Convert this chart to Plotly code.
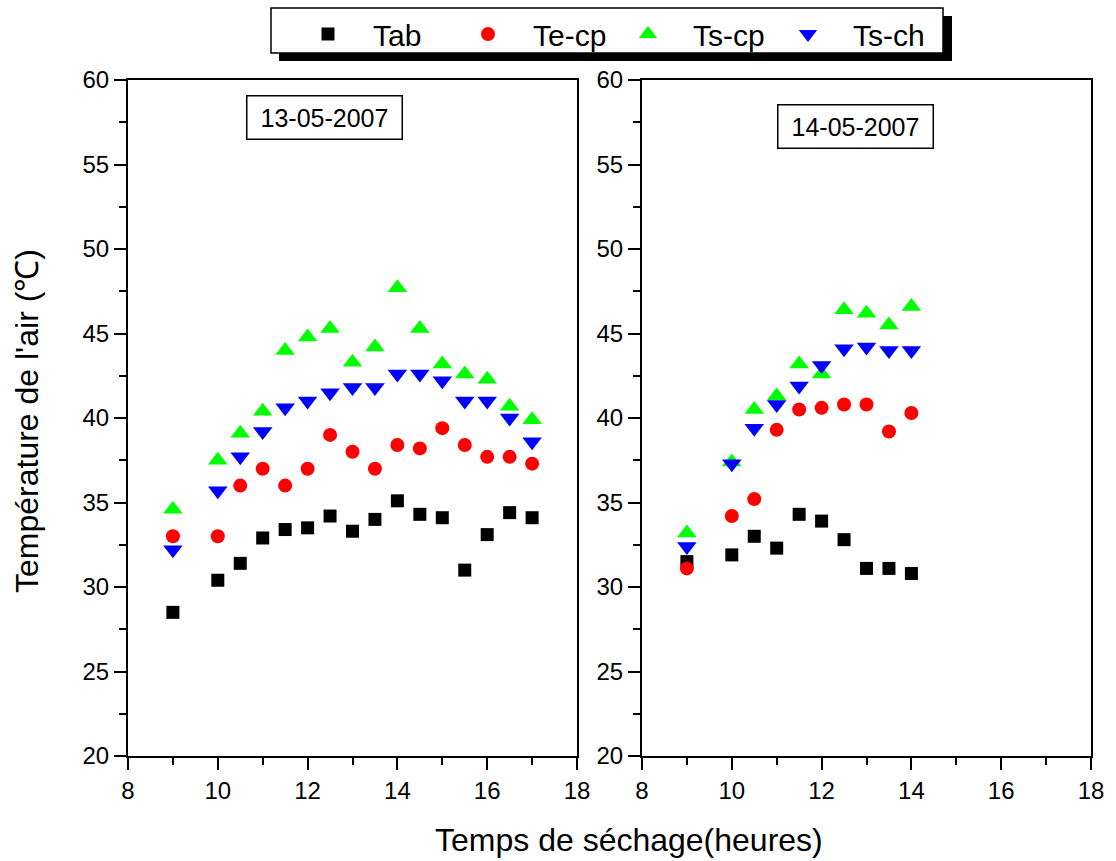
import plotly.graph_objects as go

FONT = "Liberation Sans, Arial, sans-serif"
W, H = 1116, 861

# ---------------- data ----------------
series_names = ["Tab", "Te-cp", "Ts-cp", "Ts-ch"]

hours_d1 = [9, 10, 10.5, 11, 11.5, 12, 12.5, 13, 13.5, 14, 14.5, 15, 15.5, 16, 16.5, 17]
tab_d1 = [28.5, 30.4, 31.4, 32.9, 33.4, 33.5, 34.2, 33.3, 34.0, 35.1, 34.3, 34.1, 31.0, 33.1, 34.4, 34.1]
tecp_d1 = [33.0, 33.0, 36.0, 37.0, 36.0, 37.0, 39.0, 38.0, 37.0, 38.4, 38.2, 39.4, 38.4, 37.7, 37.7, 37.3]
tscp_d1 = [34.6, 37.5, 39.1, 40.4, 44.0, 44.8, 45.3, 43.3, 44.2, 47.7, 45.3, 43.2, 42.6, 42.3, 40.7, 39.9]
tsch_d1 = [32.2, 35.7, 37.7, 39.2, 40.6, 41.0, 41.5, 41.8, 41.8, 42.6, 42.6, 42.2, 41.0, 41.0, 40.0, 38.6]

hours_d2 = [9, 10, 10.5, 11, 11.5, 12, 12.5, 13, 13.5, 14]
tab_d2 = [31.5, 31.9, 33.0, 32.3, 34.3, 33.9, 32.8, 31.1, 31.1, 30.8]
tecp_d2 = [31.1, 34.2, 35.2, 39.3, 40.5, 40.6, 40.8, 40.8, 39.2, 40.3]
tscp_d2 = [33.2, 37.4, 40.5, 41.3, 43.2, 42.6, 46.4, 46.2, 45.5, 46.6]
tsch_d2 = [32.4, 37.3, 39.4, 40.8, 41.9, 43.1, 44.1, 44.2, 44.0, 44.0]

dates = ["13-05-2007", "14-05-2007"]
x_title = "Temps de séchage(heures)"
y_title = "Température de l'air (℃)"

# ---------------- styles ----------------
styles = {
    "Tab": dict(symbol="square", color="#000000", size=13),
    "Te-cp": dict(symbol="circle", color="#ff0000", size=14),
    "Ts-cp": dict(symbol="triangle-up", color="#00ff00", size=17),
    "Ts-ch": dict(symbol="triangle-down", color="#0000ff", size=17),
}

panels = [
    ("x", "y", hours_d1, [tab_d1, tecp_d1, tscp_d1, tsch_d1], True),
    ("x2", "y2", hours_d2, [tab_d2, tecp_d2, tscp_d2, tsch_d2], False),
]

fig = go.Figure()
for xa, ya, xs, ys_list, show in panels:
    for name, ys in zip(series_names, ys_list):
        st = styles[name]
        fig.add_trace(go.Scatter(
            x=xs, y=ys, mode="markers", name="\u00a0\u00a0\u00a0" + name,
            xaxis=xa, yaxis=ya, showlegend=show,
            marker=dict(symbol=st["symbol"], color=st["color"], size=st["size"],
                        line=dict(width=0)),
        ))

def px_x(p):
    return p / W

def px_y(p):
    return 1 - p / H

ydom = [px_y(756), px_y(80)]
xdom1 = [px_x(128), px_x(577)]
xdom2 = [px_x(642), px_x(1091)]

axis_common = dict(
    showline=True, linecolor="black", linewidth=2, mirror=True,
    ticks="outside", tickwidth=2, ticklen=12, tickcolor="black",
    showgrid=False, zeroline=False,
    tickfont=dict(family=FONT, size=24, color="black"),
)
xaxis_common = dict(axis_common, range=[8, 18], tickvals=[8, 10, 12, 14, 16, 18],
                    minor=dict(tickvals=[9, 11, 13, 15, 17], ticklen=7, tickwidth=2,
                               tickcolor="black", ticks="outside"))
yaxis_common = dict(axis_common, range=[20, 60], tickvals=[20, 25, 30, 35, 40, 45, 50, 55, 60],
                    minor=dict(tickvals=[22.5, 27.5, 32.5, 37.5, 42.5, 47.5, 52.5, 57.5],
                               ticklen=7, tickwidth=2, tickcolor="black", ticks="outside"))

fig.update_layout(
    width=W, height=H,
    margin=dict(l=0, r=0, t=0, b=0, autoexpand=False),
    paper_bgcolor="white", plot_bgcolor="white",
    font=dict(family=FONT, color="black"),
    xaxis=dict(xaxis_common, domain=xdom1, anchor="y"),
    yaxis=dict(yaxis_common, domain=ydom, anchor="x"),
    xaxis2=dict(xaxis_common, domain=xdom2, anchor="y2"),
    yaxis2=dict(yaxis_common, domain=ydom, anchor="x2"),
    legend=dict(
        orientation="h", x=px_x(308), y=px_y(8), xanchor="left", yanchor="top",
        bgcolor="rgba(0,0,0,0)", borderwidth=0,
        font=dict(family=FONT, size=30, color="black"),
        entrywidth=115, entrywidthmode="pixels",
        itemsizing="trace",
    ),
    shapes=[
        dict(type="rect", xref="paper", yref="paper",
             x0=px_x(279), x1=px_x(952), y0=px_y(61), y1=px_y(16),
             fillcolor="black", line=dict(width=0), layer="above"),
        dict(type="rect", xref="paper", yref="paper",
             x0=px_x(271), x1=px_x(943), y0=px_y(53), y1=px_y(8),
             fillcolor="white", line=dict(width=1.5, color="black"), layer="above"),
    ],
    annotations=[
        dict(text=dates[0], xref="paper", yref="paper", x=px_x(324), y=px_y(118),
             xanchor="center", yanchor="middle", showarrow=False,
             font=dict(family=FONT, size=25, color="black"),
             bordercolor="black", borderwidth=1.5, borderpad=0, width=154, height=42,
             bgcolor="white"),
        dict(text=dates[1], xref="paper", yref="paper", x=px_x(855), y=px_y(126),
             xanchor="center", yanchor="middle", showarrow=False,
             font=dict(family=FONT, size=25, color="black"),
             bordercolor="black", borderwidth=1.5, borderpad=0, width=154, height=42,
             bgcolor="white"),
        dict(text=x_title, xref="paper", yref="paper", x=px_x(629), y=px_y(860),
             xanchor="center", yanchor="bottom", showarrow=False,
             font=dict(family=FONT, size=32, color="black")),
        dict(text=y_title, xref="paper", yref="paper", x=px_x(27), y=px_y(421),
             xanchor="center", yanchor="middle", showarrow=False, textangle=-90,
             font=dict(family=FONT, size=32, color="black")),
    ],
)

fig.write_html("out.html")
